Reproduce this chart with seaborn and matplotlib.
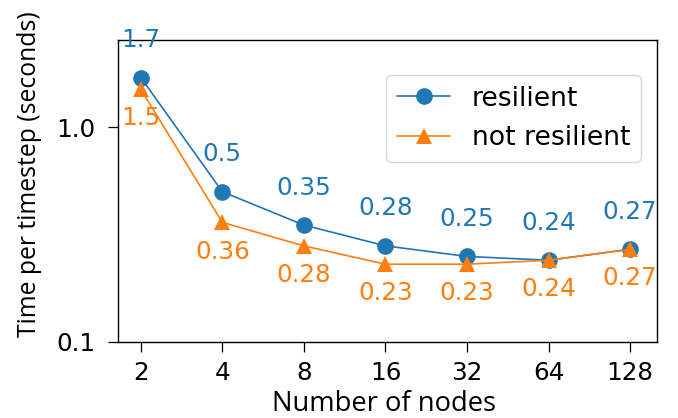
import matplotlib
matplotlib.use("Agg")
import matplotlib.pyplot as plt
import seaborn as sns
import pandas as pd
import numpy as np
from matplotlib.ticker import FixedLocator, NullLocator, FixedFormatter

nodes = [2, 4, 8, 16, 32, 64, 128]
resilient = [1.7, 0.5, 0.35, 0.28, 0.25, 0.24, 0.27]
not_resilient = [1.5, 0.36, 0.28, 0.23, 0.23, 0.24, 0.27]
series_names = ["resilient", "not resilient"]

sns.set_style("ticks")
plt.rcParams['font.family'] = ['DejaVu Sans']
FS = 17.7
plt.rcParams['font.size'] = FS
plt.rcParams['text.color'] = 'black'
plt.rcParams['axes.labelcolor'] = 'black'
plt.rcParams['xtick.color'] = 'black'
plt.rcParams['ytick.color'] = 'black'

pos = list(range(len(nodes)))
df = pd.DataFrame({
    "pos": pos * 2,
    "time": resilient + not_resilient,
    "series": [series_names[0]] * len(nodes) + [series_names[1]] * len(nodes),
})

fig = plt.figure(figsize=(6.78, 4.18), dpi=100)
ax = fig.add_axes([0.174, 0.182, 0.795, 0.722])
colors = ["#1f77b4", "#ff7f0e"]
sns.lineplot(data=df, x="pos", y="time", hue="series", style="series",
             markers=["o", "^"], dashes=False, palette=colors, markersize=12,
             markeredgewidth=0, linewidth=1.2, ax=ax)
ax.set_yscale("log")
ax.set_ylim(0.1, 2.54)
ax.yaxis.set_major_locator(FixedLocator([0.1, 1.0]))
ax.yaxis.set_major_formatter(FixedFormatter(["0.1", "1.0"]))
ax.yaxis.set_minor_locator(NullLocator())
ax.set_xticks(pos)
ax.set_xticklabels([str(n) for n in nodes])
ax.set_xlim(-0.28, 6.33)
ax.set_xlabel("Number of nodes", fontsize=19.7, family=["Open Sans", "DejaVu Sans"])
ax.set_ylabel("Time per timestep (seconds)", fontsize=17.8, family=["Open Sans", "DejaVu Sans"])
ax.xaxis.set_label_coords(0.4935, -0.160)
ax.yaxis.set_label_coords(-0.141, 0.556)
ax.tick_params(labelsize=FS, length=7, width=0.9, color="black")
ax.tick_params(axis="x", pad=7)
ax.tick_params(axis="y", pad=9)

for p, v in zip(pos, resilient):
    ax.annotate(f"{v:g}", (p, v), xytext=(0, 27), textcoords="offset points",
                ha="center", va="center", color=colors[0], fontsize=FS)
for p, v in zip(pos, not_resilient):
    ax.annotate(f"{v:g}", (p, v), xytext=(0, -21), textcoords="offset points",
                ha="center", va="center", color=colors[1], fontsize=FS)

leg = ax.legend(loc="upper right", fontsize=19.2, borderaxespad=0,
                bbox_to_anchor=(0.970, 0.884))
for spine in ax.spines.values():
    spine.set_visible(True)
    spine.set_color("black")
    spine.set_linewidth(1.0)
fig.savefig("out.png", dpi=100)
